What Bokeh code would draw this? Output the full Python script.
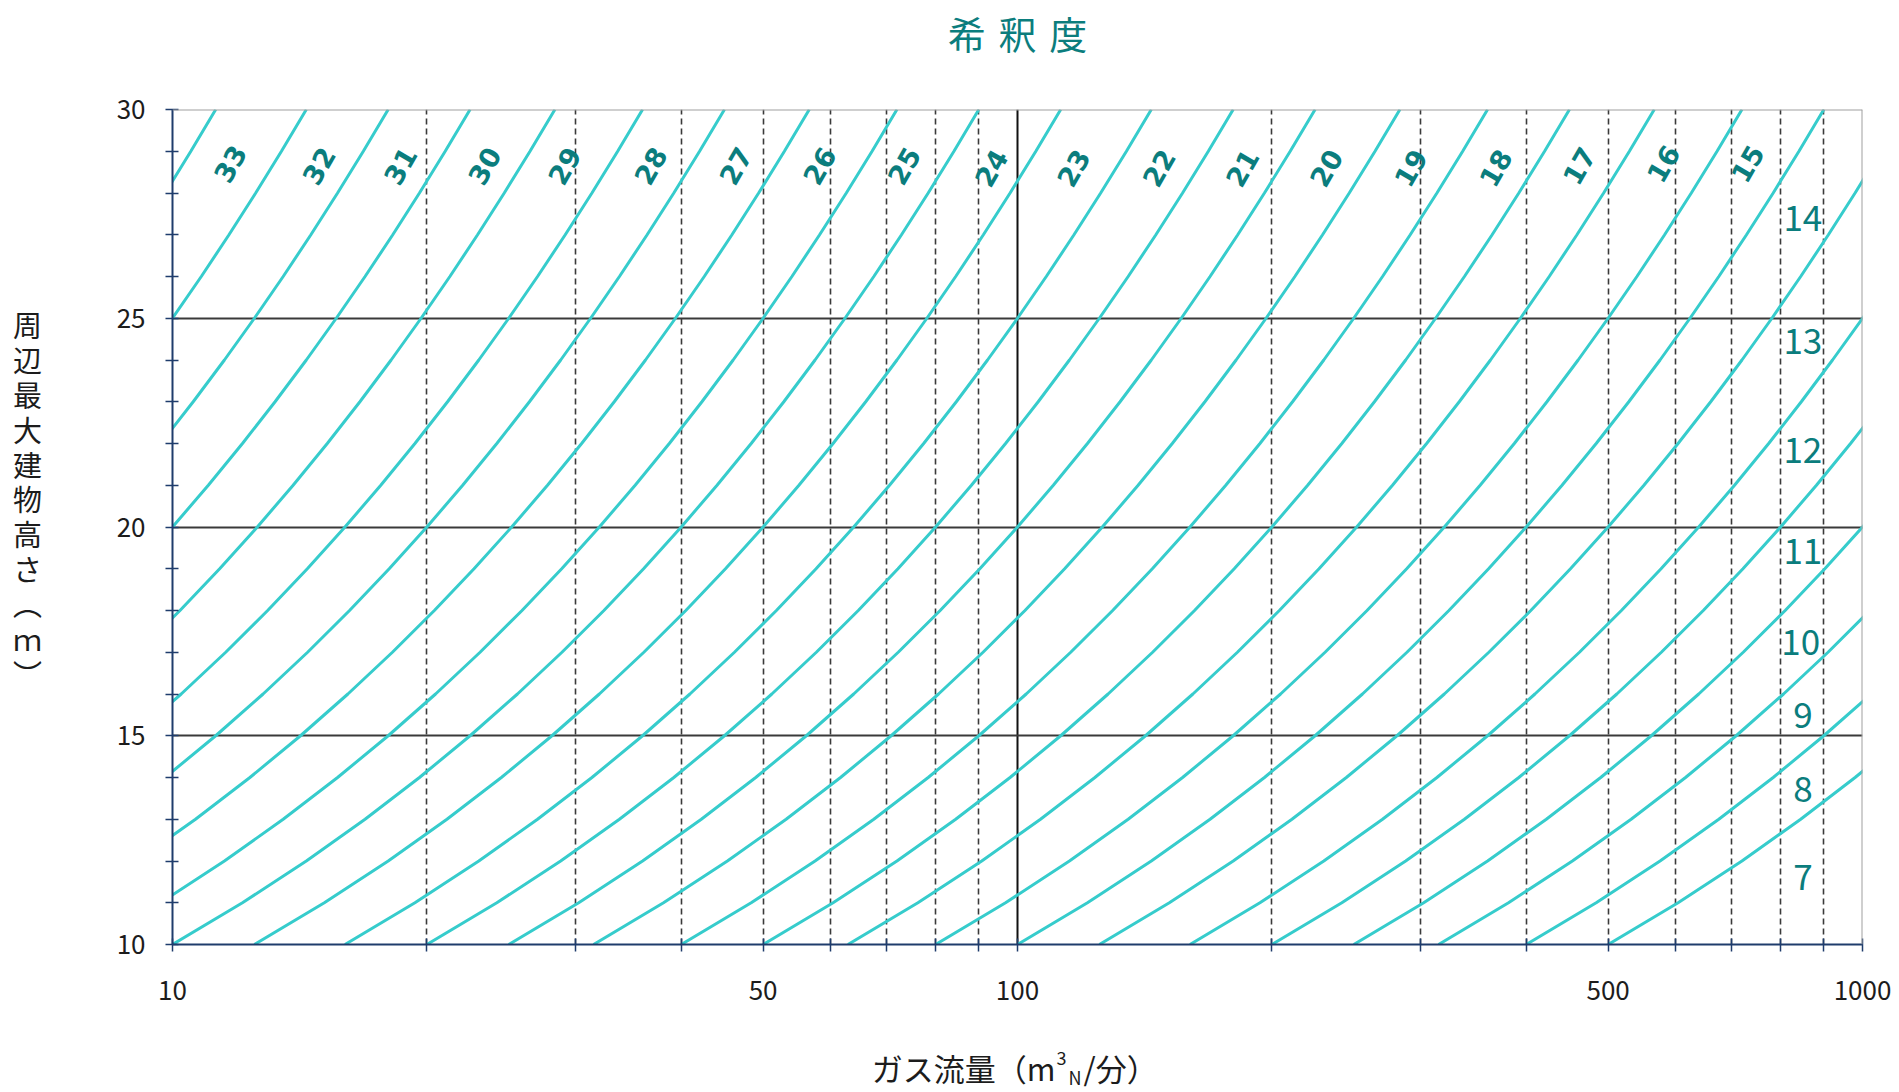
import math

from bokeh.core.properties import value
from bokeh.embed import file_html
from bokeh.models import CustomJSTickFormatter, FixedTicker, Grid, Label, Range1d, Span
from bokeh.plotting import figure
from bokeh.resources import INLINE

# Dilution index carried by each isopleth
dilution = list(range(7, 34))
# Gas flow (m3N/min) at which each isopleth crosses the 10 m height line
flow_at_10m = [500, 400, 315, 250, 200, 160, 125, 100, 80, 63, 50, 40, 31.5, 25, 20,
               16, 12.5, 10, 8, 6.3, 5, 4, 3.15, 2.5, 2, 1.6, 1.25]
# Shape shared by every isopleth: building height (m) against multiple of that flow
profile_height = [10, 11, 12, 13, 14, 15, 16, 17, 18, 19, 20,
                  21, 22, 23, 24, 25, 26, 27, 28, 29, 30]
profile_flow_multiple = [1.00, 1.21, 1.44, 1.69, 1.96, 2.25, 2.56, 2.89, 3.24, 3.61, 4.00,
                         4.41, 4.84, 5.29, 5.76, 6.25, 6.76, 7.29, 7.84, 8.41, 9.00]

# Bold index labels along the top edge
top_label_dilution = [33, 32, 31, 30, 29, 28, 27, 26, 25, 24, 23, 22, 21, 20, 19, 18, 17, 16, 15]
top_label_flow = [11.7, 14.9, 18.6, 23.4, 29.1, 36.8, 46.4, 58.3, 73.4, 93.1,
                  116.5, 147, 184.5, 232, 292, 368, 462, 581, 731]
top_label_height = [28.7, 28.65, 28.65, 28.65, 28.65, 28.65, 28.65, 28.65, 28.65, 28.6,
                    28.6, 28.6, 28.6, 28.6, 28.6, 28.6, 28.65, 28.7, 28.7]

# Plain index labels down the right-hand side
side_label_dilution = [14, 13, 12, 11, 10, 9, 8, 7]
side_label_flow = [850, 850, 850, 850, 845, 850, 850, 850]
side_label_height = [27.4, 24.45, 21.85, 19.42, 17.25, 15.5, 13.72, 11.62]

# Axis ticks
x_tick_labels = [10, 50, 100, 500, 1000]
x_minor_ticks = [20, 30, 40, 60, 70, 80, 90, 200, 300, 400, 600, 700, 800, 900]
x_dashed_grid = [20, 30, 40, 50, 60, 70, 80, 90, 200, 300, 400, 500, 600, 700, 800, 900]
x_solid_grid = [100]
y_tick_labels = [10, 15, 20, 25, 30]
y_minor_ticks = [11, 12, 13, 14, 16, 17, 18, 19, 21, 22, 23, 24, 26, 27, 28, 29]
y_solid_grid = [15, 20, 25]

CURVE = "#36cccc"
TEAL = "#0b7d7d"
NAVY = "#1f3c6c"
INK = "#1c1c1c"
JP = "Noto Sans CJK JP"

W, H = 1899, 1092
LEFT, RIGHT, TOP, BOTTOM = 172, 37, 109, 148
FRAME_W = W - LEFT - RIGHT
FRAME_H = H - TOP - BOTTOM


def canvas_to_flow(px):
    """Canvas x pixel -> data x on the log flow scale."""
    return 10 ** (1 + 2 * (px - LEFT) / FRAME_W)


def canvas_to_height(py):
    """Canvas y pixel (from the top) -> data y on the height scale."""
    return 30 - 20 * (py - TOP) / FRAME_H


p = figure(width=W, height=H, x_axis_type="log",
           x_range=Range1d(10, 1000), y_range=Range1d(10, 30),
           output_backend="svg", toolbar_location=None,
           min_border_left=LEFT, min_border_right=RIGHT,
           min_border_top=TOP, min_border_bottom=BOTTOM,
           background_fill_color="white", border_fill_color="white")
p.outline_line_color = None
p.grid.visible = False

# grid lines
p.add_layout(Grid(dimension=0, ticker=FixedTicker(ticks=x_dashed_grid),
                  grid_line_color="#3a3a3a", grid_line_width=1.6, grid_line_dash="6 4"))
p.add_layout(Grid(dimension=0, ticker=FixedTicker(ticks=x_solid_grid),
                  grid_line_color="#111111", grid_line_width=2))
p.add_layout(Grid(dimension=1, ticker=FixedTicker(ticks=y_solid_grid),
                  grid_line_color="#3a3a3a", grid_line_width=2))

# grey frame on the top and right
p.add_layout(Span(location=30, dimension="width", line_color="#a0a0a0", line_width=2))
p.add_layout(Span(location=1000, dimension="height", line_color="#a0a0a0", line_width=2))

# isopleths
xs = [[q * m for m in profile_flow_multiple] for q in flow_at_10m]
ys = [list(profile_height) for _ in flow_at_10m]
p.multi_line(xs=xs, ys=ys, line_color=CURVE, line_width=3)

# index labels
p.text(x=top_label_flow, y=top_label_height, text=[str(d) for d in top_label_dilution],
       angle=math.radians(60), text_align="center", text_baseline="middle",
       text_font=value("DejaVu Sans"), text_font_style="bold", text_font_size="27px",
       text_color=TEAL)
p.text(x=side_label_flow, y=side_label_height, text=[str(d) for d in side_label_dilution],
       text_align="center", text_baseline="middle",
       text_font=value(JP), text_font_size="35px", text_color=TEAL)

# axes
xa = p.xaxis[0]
xa.ticker = FixedTicker(ticks=x_tick_labels, minor_ticks=x_minor_ticks)
xa.formatter = CustomJSTickFormatter(code="return String(Math.round(tick));")
xa.major_label_standoff = 29
ya = p.yaxis[0]
ya.ticker = FixedTicker(ticks=y_tick_labels, minor_ticks=y_minor_ticks)
ya.major_label_standoff = 20
for ax in (xa, ya):
    ax.axis_line_color = NAVY
    ax.axis_line_width = 2
    ax.major_tick_line_color = NAVY
    ax.minor_tick_line_color = NAVY
    ax.major_tick_line_width = 1.5
    ax.minor_tick_line_width = 1.5
    ax.major_tick_in = 6
    ax.major_tick_out = 7
    ax.minor_tick_in = 6
    ax.minor_tick_out = 7
    ax.major_label_text_font = JP
    ax.major_label_text_font_size = "26px"
    ax.major_label_text_color = INK


def margin_label(side, px, py, text, size, align="center", color=INK, **kw):
    """Text in the margins; placed in a side panel so it is not clipped to the frame."""
    p.add_layout(Label(x=canvas_to_flow(px), y=canvas_to_height(py), text=text,
                       text_align=align, text_baseline="middle", text_font=JP,
                       text_font_size=size, text_color=color, **kw), side)


# title
margin_label("above", 1017, 32, "希\u2004釈\u2004度", "38px", color=TEAL)

# vertical y-axis title
margin_label("left", 27, 498, "周\n辺\n最\n大\n建\n物\n高\nさ\n︵\nｍ\n︶", "29px",
             text_line_height=0.83)

# x-axis title with superscript 3 and subscript N
margin_label("below", 1055, 1067, "ガス流量（m", "31px", align="right")
margin_label("above", 1083, 1067, "/分）", "31px", align="left")
margin_label("left", 1056, 1057, "3", "18px", align="left")
margin_label("left", 1068, 1076, "N", "18px", align="left")

open("out.html", "w").write(file_html(p, INLINE))
